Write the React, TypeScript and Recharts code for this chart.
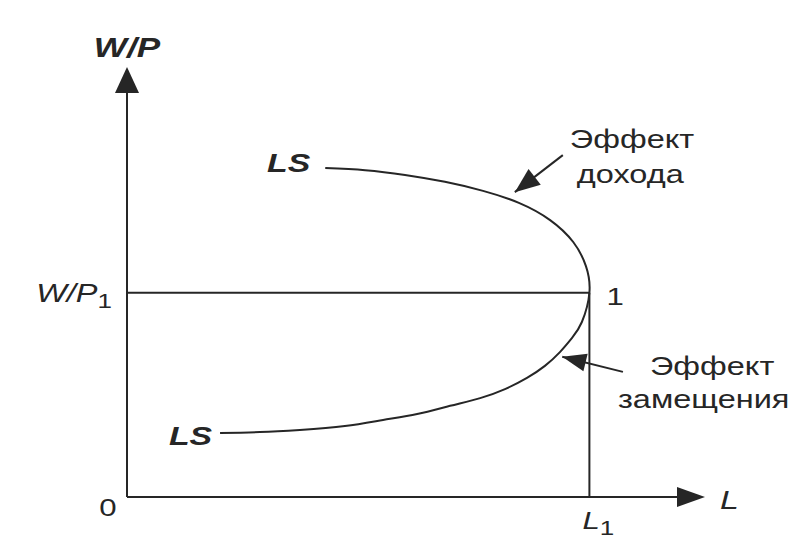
import React from 'react';
import { LineChart, Line, XAxis, YAxis, ReferenceLine, ReferenceDot } from 'recharts';

// Labour supply curve LS (backward bending), in chart units
const supplyL = [3.43, 4.12, 4.81, 5.5, 6.16, 6.78, 7.32, 7.72, 7.94, 8.0, 7.87, 7.7, 7.49, 7.23, 6.92, 6.54, 6.11, 5.59, 5.02, 4.43, 3.77, 2.99, 2.3, 1.61];
const supplyW = [7.65, 7.6, 7.49, 7.33, 7.12, 6.84, 6.44, 5.93, 5.37, 4.75, 4.07, 3.7, 3.37, 3.05, 2.77, 2.51, 2.3, 2.12, 1.93, 1.79, 1.65, 1.56, 1.51, 1.49];

const L1 = 8;
const WP1 = 4.75;
const maxL = 10;
const maxW = 10;

// pointer arrows: [tailL, tailW, tipL, tipW]
const incomeArrow = [7.54, 7.95, 6.71, 7.09];
const substArrow = [8.58, 2.91, 7.53, 3.26];

const supplyData = supplyL.map((l, i) => ({ L: l, W: supplyW[i] }));

const FONT = '"Liberation Sans", Arial, Helvetica, sans-serif';
const INK = '#262626';
const SX = 1.3;

type TxtOpts = { size?: number; italic?: boolean; bold?: boolean; anchor?: 'start' | 'middle' | 'end' };

function Txt(props: { x: number; y: number; opts?: TxtOpts; children: React.ReactNode }) {
  const o = props.opts || {};
  return (
    <text
      transform={`translate(${props.x},${props.y}) scale(${SX},1)`}
      x={0}
      y={0}
      fill={INK}
      fontFamily={FONT}
      fontSize={o.size ?? 25}
      fontStyle={o.italic ? 'italic' : 'normal'}
      fontWeight={o.bold ? 'bold' : 'normal'}
      textAnchor={o.anchor ?? 'start'}
    >
      {props.children}
    </text>
  );
}

const textShape = (content: React.ReactNode, dx: number, dy: number, opts?: TxtOpts) => (p: any) => (
  <Txt x={p.cx + dx} y={p.cy + dy} opts={opts}>
    {content}
  </Txt>
);

const arrowHead = (angle: number, len: number, half: number) => (p: any) => (
  <polygon
    points={`0,0 ${-len},${-half} ${-len},${half}`}
    transform={`translate(${p.cx},${p.cy}) rotate(${angle})`}
    fill={INK}
  />
);

const subLabel = (main: string, sub: string) => (
  <>
    {main}
    <tspan fontSize={20} fontStyle="normal" dy={6}>
      {sub}
    </tspan>
  </>
);

export default function App() {
  return (
    <div style={{ position: 'absolute', left: 0, top: 0, width: 805, height: 540, background: '#ffffff' }}>
      <LineChart
        width={805}
        height={540}
        data={supplyData}
        margin={{ top: 67, right: 100, bottom: 43, left: 127 }}
      >
        <XAxis type="number" dataKey="L" domain={[0, maxL]} hide />
        <YAxis type="number" dataKey="W" domain={[0, maxW]} hide />
        {/* axes */}
        <ReferenceLine
          segment={[{ x: 0, y: 0 }, { x: maxL - 0.2, y: 0 }]}
          stroke={INK}
          strokeWidth={2}
          ifOverflow="visible"
        />
        <ReferenceLine
          segment={[{ x: 0, y: 0 }, { x: 0, y: maxW - 0.2 }]}
          stroke={INK}
          strokeWidth={2}
          ifOverflow="visible"
        />
        <ReferenceDot x={maxL} y={0} r={0} ifOverflow="visible" shape={arrowHead(0, 28, 10)} />
        <ReferenceDot x={0} y={maxW} r={0} ifOverflow="visible" shape={arrowHead(-90, 26, 12)} />
        {/* guide lines to point 1 */}
        <ReferenceLine
          segment={[{ x: 0, y: WP1 }, { x: L1, y: WP1 }]}
          stroke={INK}
          strokeWidth={2}
          ifOverflow="visible"
        />
        <ReferenceLine
          segment={[{ x: L1, y: 0 }, { x: L1, y: WP1 }]}
          stroke={INK}
          strokeWidth={2}
          ifOverflow="visible"
        />
        <Line
          dataKey="W"
          type="natural"
          stroke={INK}
          strokeWidth={2}
          dot={false}
          activeDot={false}
          isAnimationActive={false}
        />
        {/* axis labels */}
        <ReferenceDot
          x={0}
          y={maxW}
          r={0}
          ifOverflow="visible"
          shape={textShape('W/P', 0, -10, { italic: true, bold: true, size: 27, anchor: 'middle' })}
        />
        <ReferenceDot
          x={maxL}
          y={0}
          r={0}
          ifOverflow="visible"
          shape={textShape('L', 15, 12, { italic: true, size: 26 })}
        />
        <ReferenceDot x={0} y={0} r={0} ifOverflow="visible" shape={textShape('0', -19, 19, { size: 24, anchor: 'middle' })} />
        <ReferenceDot
          x={L1}
          y={0}
          r={0}
          ifOverflow="visible"
          shape={textShape(subLabel('L', '1'), -7, 32, { italic: true, size: 24 })}
        />
        <ReferenceDot
          x={0}
          y={WP1}
          r={0}
          ifOverflow="visible"
          shape={textShape(subLabel('W/P', '1'), -15, 9, { italic: true, size: 25, anchor: 'end' })}
        />
        {/* curve labels */}
        <ReferenceDot
          x={supplyL[0]}
          y={supplyW[0]}
          r={0}
          ifOverflow="visible"
          shape={textShape('LS', -15, 4, { italic: true, bold: true, size: 26, anchor: 'end' })}
        />
        <ReferenceDot
          x={supplyL[supplyL.length - 1]}
          y={supplyW[supplyW.length - 1]}
          r={0}
          ifOverflow="visible"
          shape={textShape('LS', -8, 12, { italic: true, bold: true, size: 26, anchor: 'end' })}
        />
        <ReferenceDot x={L1} y={WP1} r={0} ifOverflow="visible" shape={textShape('1', 17, 12, { size: 24 })} />
        {/* income effect pointer */}
        <ReferenceLine
          segment={[{ x: incomeArrow[0], y: incomeArrow[1] }, { x: incomeArrow[2], y: incomeArrow[3] }]}
          stroke={INK}
          strokeWidth={2}
          ifOverflow="visible"
        />
        <ReferenceDot x={incomeArrow[2]} y={incomeArrow[3]} r={0} ifOverflow="visible" shape={arrowHead(142.4, 25, 10)} />
        <ReferenceDot
          x={incomeArrow[0]}
          y={incomeArrow[1]}
          r={0}
          ifOverflow="visible"
          shape={textShape('Эффект', 7, -7, { size: 25 })}
        />
        <ReferenceDot
          x={incomeArrow[0]}
          y={incomeArrow[1]}
          r={0}
          ifOverflow="visible"
          shape={textShape('дохода', 14, 28, { size: 25 })}
        />
        {/* substitution effect pointer */}
        <ReferenceLine
          segment={[{ x: substArrow[0], y: substArrow[1] }, { x: substArrow[2], y: substArrow[3] }]}
          stroke={INK}
          strokeWidth={2}
          ifOverflow="visible"
        />
        <ReferenceDot x={substArrow[2]} y={substArrow[3]} r={0} ifOverflow="visible" shape={arrowHead(-166.2, 24, 9)} />
        <ReferenceDot
          x={substArrow[0]}
          y={substArrow[1]}
          r={0}
          ifOverflow="visible"
          shape={textShape('Эффект', 27, 3, { size: 25 })}
        />
        <ReferenceDot
          x={substArrow[0]}
          y={substArrow[1]}
          r={0}
          ifOverflow="visible"
          shape={textShape('замещения', -5, 36, { size: 25 })}
        />
      </LineChart>
    </div>
  );
}
